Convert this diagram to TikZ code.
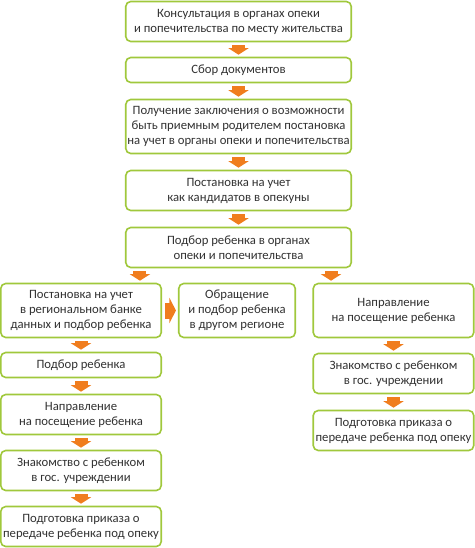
\documentclass[tikz,border=0pt]{standalone}
\usepackage{fontspec}
\setmainfont{Carlito}
\usetikzlibrary{arrows.meta}
\definecolor{boxgreen}{RGB}{160,200,60}
\definecolor{arrorange}{RGB}{240,125,30}
\definecolor{txtgray}{RGB}{50,50,50}
\begin{document}
\begin{tikzpicture}[x=1pt,y=-1pt,
stage/.style={draw=boxgreen,line width=1.6pt,rounded corners=5pt,fill=white,align=center,inner sep=0pt,text=txtgray,font=\fontsize{12.7}{15}\selectfont},
flow/.style={draw=arrorange,line width=13pt,shorten <=3pt,shorten >=2pt,-{Triangle[width=20pt,length=6.5pt]}},
flowh/.style={draw=arrorange,line width=16pt,shorten <=3pt,shorten >=2pt,-{Triangle[width=25pt,length=6.5pt]}}]
\def\wc{225.5};
\def\ws{160.5};
\useasboundingbox (0,0) rectangle (474,548);
\node[stage,minimum width=\wc,minimum height=40] (S1) at (238.5,21.5) {Консультация в органах опеки\\и попечительства по месту жительства};
\node[stage,minimum width=\wc,minimum height=25] (S2) at (238.5,70) {Сбор документов};
\node[stage,minimum width=\wc,minimum height=54] (S3) at (238.5,126.5) {Получение заключения о возможности\\быть приемным родителем постановка\\на учет в органы опеки и попечительства};
\node[stage,minimum width=\wc,minimum height=40] (S4) at (238.5,190.5) {Постановка на учет\\как кандидатов в опекуны};
\node[stage,minimum width=\wc,minimum height=40] (S5) at (238.5,247.5) {Подбор ребенка в органах\\опеки и попечительства};
\node[stage,minimum width=\ws,minimum height=54] (L1) at (81,310.5) {Постановка на учет\\в региональном банке\\данных и подбор ребенка};
\node[stage,minimum width=116.5,minimum height=54] (M) at (237,310.5) {Обращение\\и подбор ребенка\\в другом регионе};
\node[stage,minimum width=\ws,minimum height=54] (R1) at (393.5,310.5) {Направление\\на посещение ребенка};
\node[stage,minimum width=\ws,minimum height=25] (L2) at (81,365) {Подбор ребенка};
\node[stage,minimum width=\ws,minimum height=40] (L3) at (81,414.5) {Направление\\на посещение ребенка};
\node[stage,minimum width=\ws,minimum height=40] (L4) at (81,470.5) {Знакомство с ребенком\\в гос. учреждении};
\node[stage,minimum width=\ws,minimum height=40] (L5) at (81,526.5) {Подготовка приказа о\\передаче ребенка под опеку};
\node[stage,minimum width=\ws,minimum height=40] (R2) at (393.5,373.5) {Знакомство с ребенком\\в гос. учреждении};
\node[stage,minimum width=\ws,minimum height=40] (R3) at (393.5,430.5) {Подготовка приказа о\\передаче ребенка под опеку};
\draw[flow] (S1) -- (S2);
\draw[flow] (S2) -- (S3);
\draw[flow] (S3) -- (S4);
\draw[flow] (S4) -- (S5);
\draw[flow] ([xshift=15pt]S5.south west) -- ([xshift=15pt]S5.south west |- L1.north);
\draw[flow] ([xshift=-21pt]S5.south east) -- ([xshift=-21pt]S5.south east |- R1.north);
\draw[flowh] (L1) -- (M);
\draw[flow] (L1) -- (L2);
\draw[flow] (L2) -- (L3);
\draw[flow] (L3) -- (L4);
\draw[flow] (L4) -- (L5);
\draw[flow] (R1) -- (R2);
\draw[flow] (R2) -- (R3);
\end{tikzpicture}
\end{document}
